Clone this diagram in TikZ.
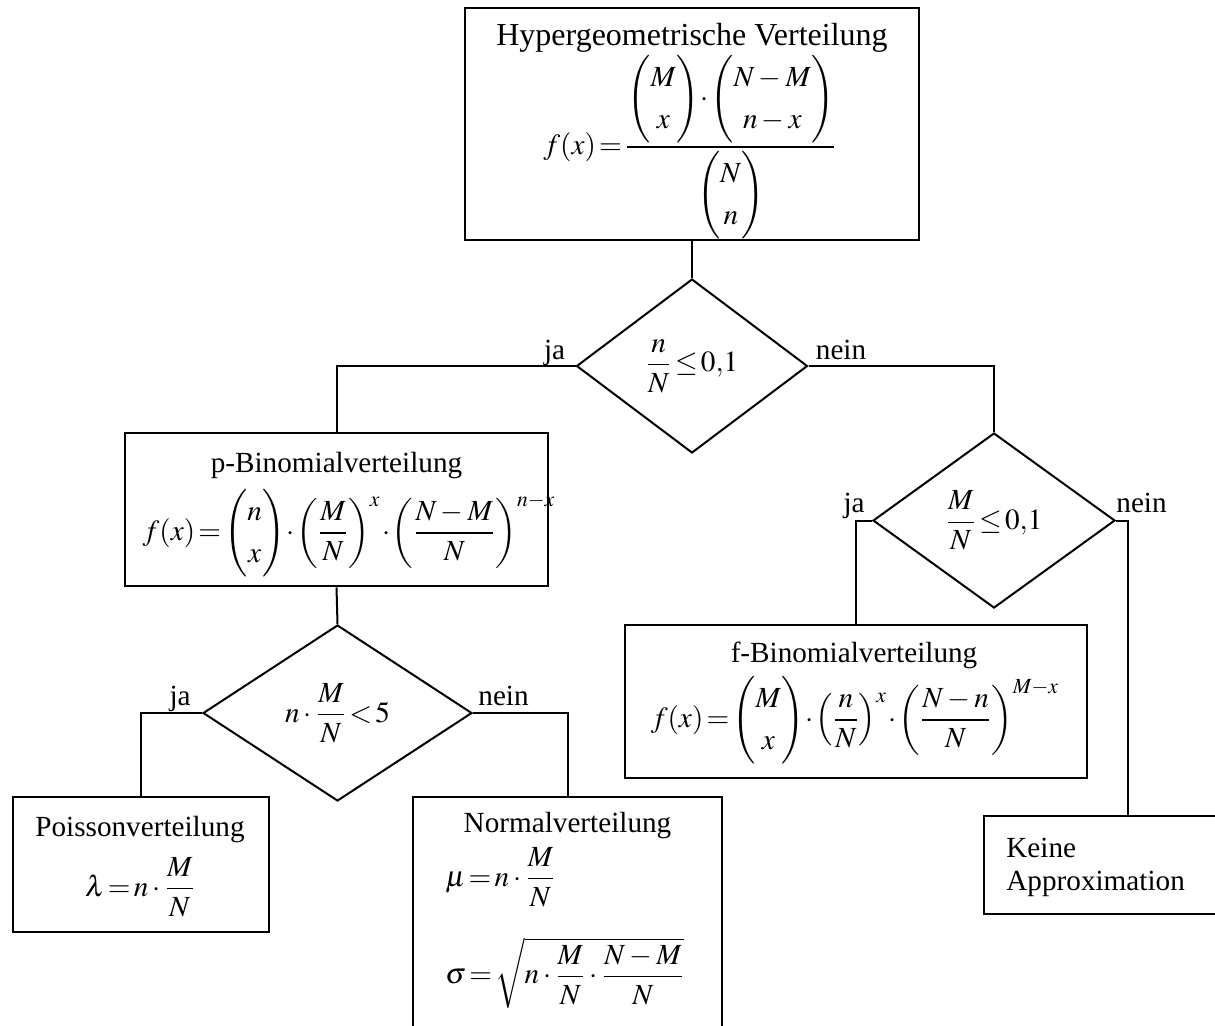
\documentclass[tikz,border=0pt]{standalone}
\usepackage{amsmath}
\usepackage{mathptmx}
\usepackage[no-math]{fontspec}
\setmainfont{Liberation Serif}
\usetikzlibrary{shapes.geometric,positioning}

\newcommand{\md}{\mkern-1mu{\cdot}\mkern-1mu}

\begin{document}
\begin{tikzpicture}[x=0.5pt,y=-0.5pt,
    every node/.style={font=\fontsize{14.6}{17.5}\selectfont},
    box/.style={draw, line width=1.4pt, rectangle, inner sep=0pt},
    test/.style={draw, line width=1pt, diamond, inner sep=0pt},
    txt/.style={inner sep=0pt},
    lbl/.style={inner sep=0pt},
    line/.style={line width=1pt}]
    \useasboundingbox (0,0) rectangle (1215,1025);
    \renewcommand{\arraystretch}{1.2}

    % Kaesten
    \node[box, minimum width=227pt, minimum height=116pt] (hyper) at (692,124) {};
    \node[box, minimum width=211.5pt, minimum height=76.5pt] (pbin) at (336.5,509.5) {};
    \node[box, minimum width=231pt, minimum height=76.5pt] (fbin) at (856,701.5) {};
    \node[box, minimum width=128pt, minimum height=67.5pt] (poisson) at (141,864.5) {};
    \node[box, minimum width=154.5pt, minimum height=116pt] (normal) at (567.5,913) {};
    \node[box, minimum width=144pt, minimum height=49pt] (keine) at (1128,865) {};

    % Texte in den Kaesten
    \node[txt, anchor=base, font=\fontsize{16}{19}\selectfont] (hypertitel) at (692,45) {Hypergeometrische Verteilung};
    \node[txt] (hyperformel) at (690,147)
        {$f(x)\!=\!\dfrac{\begin{pmatrix}M\\x\end{pmatrix}\md\begin{pmatrix}N-M\\n-x\end{pmatrix}}{\begin{pmatrix}N\\n\end{pmatrix}}$};
    \node[txt, anchor=base] (pbintitel) at (336.5,472) {p-Binomialverteilung};
    \node[txt] (pbinformel) at (349,533)
        {$f(x)\!=\!\begin{pmatrix}n\\x\end{pmatrix}\md\left(\dfrac{M}{N}\right)^{x}\md\left(\dfrac{N-M}{N}\right)^{n-x}$};
    \node[txt, anchor=base] (fbintitel) at (854,662) {f-Binomialverteilung};
    \node[txt] (fbinformel) at (855,720)
        {$f(x)\!=\!\begin{pmatrix}M\\x\end{pmatrix}\md\left(\dfrac{n}{N}\right)^{x}\md\left(\dfrac{N-n}{N}\right)^{M-x}$};
    \node[txt, anchor=base] (poissontitel) at (140,836) {Poissonverteilung};
    \node[txt] (poissonformel) at (140,887) {$\lambda\!=\!n\cdot\dfrac{M}{N}$};
    \node[txt, anchor=base] (normaltitel) at (567.5,832) {Normalverteilung};
    \node[txt, anchor=west] (mu) at (445,877) {$\mu\!=\!n\cdot\dfrac{M}{N}$};
    \node[txt, anchor=west] (sigma) at (445,973) {$\sigma\!=\!\sqrt{n\cdot\dfrac{M}{N}\cdot\dfrac{N-M}{N}}$};
    \node[txt, anchor=north west, align=left, font=\fontsize{14.6}{16.5}\selectfont] (keinetext) at (1006,838)
        {Keine\\Approximation};

    % Entscheidungen
    \node[test, minimum width=115.5pt, minimum height=87pt] (d1) at (692,366) {$\dfrac{n}{N}\!\le\!0{,}1$};
    \node[test, minimum width=121pt, minimum height=87.5pt] (d2) at (994,520.5) {$\dfrac{M}{N}\!\le\!0{,}1$};
    \node[test, minimum width=134.5pt, minimum height=88pt] (d3) at (337.5,713) {$n\cdot\dfrac{M}{N}\!<\!5$};

    % Verbindungen
    \draw[line] (hyper.south) -- (d1.north);
    \draw[line] (d1.west) -| (pbin.north);
    \draw[line] (d1.east) -| (d2.north);
    \draw[line] (pbin.south) -- (d3.north);
    \draw[line] (d2.west) -| (fbin.north);
    \draw[line] (d2.east) -| (keine.north);
    \draw[line] (d3.west) -| (poisson.north);
    \draw[line] (d3.east) -| (normal.north);

    % ja / nein
    \node[lbl, anchor=base east] (ja1) at ([xshift=-5pt,yshift=3.5pt]d1.west) {ja};
    \node[lbl, anchor=base west] (nein1) at ([xshift=3.5pt,yshift=3.5pt]d1.east) {nein};
    \node[lbl, anchor=base east] (ja2) at ([xshift=-3.5pt,yshift=4pt]d2.west) {ja};
    \node[lbl, anchor=base west] (nein2) at ([xshift=0pt,yshift=4pt]d2.east) {nein};
    \node[lbl, anchor=base east] (ja3) at ([xshift=-5.5pt,yshift=4pt]d3.west) {ja};
    \node[lbl, anchor=base west] (nein3) at ([xshift=2.5pt,yshift=4pt]d3.east) {nein};
\end{tikzpicture}
\end{document}
